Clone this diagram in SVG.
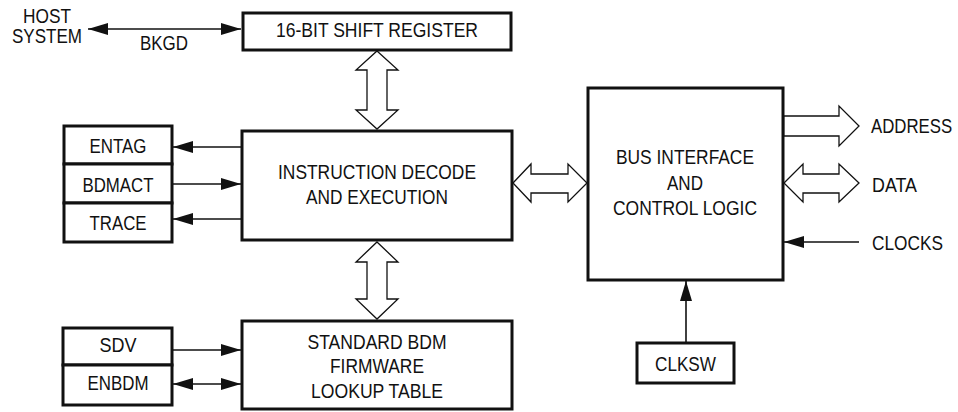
<svg xmlns="http://www.w3.org/2000/svg" width="958" height="412" viewBox="0 0 958 412">
<style>
.box{fill:#fff;stroke:#111;stroke-width:3}
.t{font-family:"Liberation Sans",Arial,sans-serif;font-size:21px;fill:#111;text-anchor:middle}
.s{font-size:19.5px}
.l{text-anchor:start}
.ln{stroke:#111;stroke-width:1.6;fill:none}
.bus{fill:#fff;stroke:#111;stroke-width:1.3;stroke-linejoin:miter}
</style>
<defs>
<marker id="ah" viewBox="0 0 20 12" refX="20" refY="6" markerWidth="20" markerHeight="12" markerUnits="userSpaceOnUse" orient="auto-start-reverse">
<path d="M0,0 L20,6 L0,12 z" fill="#111"/>
</marker>
</defs>
<rect width="958" height="412" fill="#fff"/>
<g id="host">
<text class="t s" x="47" y="23" textLength="48" lengthAdjust="spacingAndGlyphs">HOST</text>
<text class="t s" x="47" y="43" textLength="70" lengthAdjust="spacingAndGlyphs">SYSTEM</text>
</g>
<g id="shift">
<rect class="box" x="243" y="13" width="268" height="37"/>
<text class="t" x="377" y="36.5" textLength="202" lengthAdjust="spacingAndGlyphs">16-BIT SHIFT REGISTER</text>
</g>
<g id="instr">
<rect class="box" x="242" y="131" width="270" height="109"/>
<text class="t" x="377" y="179" textLength="198" lengthAdjust="spacingAndGlyphs">INSTRUCTION DECODE</text>
<text class="t" x="377" y="204" textLength="142" lengthAdjust="spacingAndGlyphs">AND EXECUTION</text>
</g>
<g id="entag">
<rect class="box" x="64" y="126" width="108" height="38"/>
<text class="t" x="118" y="153" textLength="57" lengthAdjust="spacingAndGlyphs">ENTAG</text>
</g>
<g id="bdmact">
<rect class="box" x="64" y="164" width="108" height="39"/>
<text class="t" x="118" y="192" textLength="71" lengthAdjust="spacingAndGlyphs">BDMACT</text>
</g>
<g id="trace">
<rect class="box" x="64" y="203" width="108" height="39"/>
<text class="t" x="118" y="230" textLength="57" lengthAdjust="spacingAndGlyphs">TRACE</text>
</g>
<g id="sdv">
<rect class="box" x="63" y="328" width="109" height="37"/>
<text class="t" x="118" y="352" textLength="37" lengthAdjust="spacingAndGlyphs">SDV</text>
</g>
<g id="enbdm">
<rect class="box" x="63" y="365" width="109" height="40"/>
<text class="t" x="118" y="390" textLength="61" lengthAdjust="spacingAndGlyphs">ENBDM</text>
</g>
<g id="bdm">
<rect class="box" x="242" y="321" width="270" height="88"/>
<text class="t" x="377" y="349" textLength="139" lengthAdjust="spacingAndGlyphs">STANDARD BDM</text>
<text class="t" x="377" y="373" textLength="94" lengthAdjust="spacingAndGlyphs">FIRMWARE</text>
<text class="t" x="377" y="398" textLength="132" lengthAdjust="spacingAndGlyphs">LOOKUP TABLE</text>
</g>
<g id="businterface">
<rect class="box" x="588" y="88" width="195" height="192"/>
<text class="t" x="685" y="164" textLength="138" lengthAdjust="spacingAndGlyphs">BUS INTERFACE</text>
<text class="t" x="685" y="190" textLength="36" lengthAdjust="spacingAndGlyphs">AND</text>
<text class="t" x="685" y="215" textLength="144" lengthAdjust="spacingAndGlyphs">CONTROL LOGIC</text>
</g>
<g id="clksw">
<rect class="box" x="637" y="343" width="97" height="40"/>
<text class="t" x="685.5" y="371" textLength="61" lengthAdjust="spacingAndGlyphs">CLKSW</text>
</g>
<g id="signals">
<text class="t" x="164" y="50" textLength="48" lengthAdjust="spacingAndGlyphs">BKGD</text>
<text class="t l" transform="translate(871,133) scale(0.8,1)" x="0" y="0">ADDRESS</text>
<text class="t l" x="872" y="192" textLength="45" lengthAdjust="spacingAndGlyphs">DATA</text>
<text class="t l" x="872" y="250" textLength="71" lengthAdjust="spacingAndGlyphs">CLOCKS</text>
</g>
<g id="connectors">
<line class="ln" x1="88" y1="29" x2="241" y2="29" marker-start="url(#ah)" marker-end="url(#ah)"/>
<line class="ln" x1="241" y1="147" x2="173" y2="147" marker-end="url(#ah)"/>
<line class="ln" x1="173" y1="184" x2="241" y2="184" marker-end="url(#ah)"/>
<line class="ln" x1="241" y1="219" x2="173" y2="219" marker-end="url(#ah)"/>
<line class="ln" x1="172" y1="350" x2="241" y2="350" marker-end="url(#ah)"/>
<line class="ln" x1="173" y1="384" x2="241" y2="384" marker-start="url(#ah)" marker-end="url(#ah)"/>
<line class="ln" x1="859" y1="242" x2="784" y2="242" marker-end="url(#ah)"/>
<line class="ln" x1="686" y1="343" x2="686" y2="281" marker-end="url(#ah)"/>
<polygon class="bus" points="377,51 398,70 387,70 387,110 398,110 377,129 356,110 367,110 367,70 356,70"/>
<polygon class="bus" points="377,242 398,262 387,262 387,299 398,299 377,319 356,299 367,299 367,262 356,262"/>
<polygon class="bus" points="513,183 531,164 531,174 568,174 568,164 587,183 568,202 568,193 531,193 531,202"/>
<polygon class="bus" points="784,116 839,116 839,106 859,126 839,146 839,136 784,136"/>
<polygon class="bus" points="784,183 803,164 803,174 839,174 839,164 859,183 839,202 839,193 803,193 803,202"/>
</g>
</svg>
